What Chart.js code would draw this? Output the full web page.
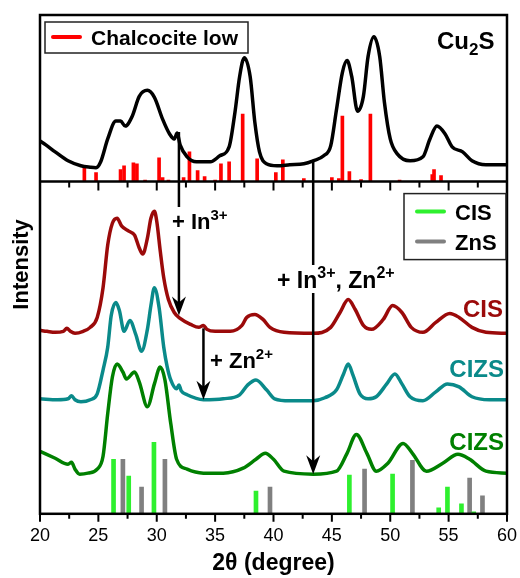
<!DOCTYPE html>
<html>
<head>
<meta charset="utf-8">
<script src="https://cdn.jsdelivr.net/npm/chart.js@4"></script>
<style>
  body { margin: 0; background: #fff; }
  #wrap { width: 520px; height: 578px; }
</style>
</head>
<body>
<div id="wrap"><canvas id="xrd"></canvas></div>
<script>
const FONT = '"Liberation Sans", Arial, Helvetica, sans-serif';

// x axis, 2theta in degrees
const angleMin = 20;
const angleMax = 60;
const angleStep = 5;

// Cu2S pattern, top panel: [2theta, intensity (a.u.)]
const cu2s = [
    [20.0, 41], [20.5, 37], [21.3, 30], [22.4, 21], [23.5, 16], [24.3, 14.5], [24.8, 14],
    [25.2, 20], [25.8, 43], [26.5, 61], [26.9, 61], [27.3, 56], [27.9, 66], [28.5, 86],
    [29.2, 92], [29.8, 85], [30.5, 63], [31.1, 48], [31.5, 43], [31.75, 49], [32.0, 37],
    [32.6, 25], [33.4, 20], [34.6, 20], [35.4, 26], [36.2, 35], [36.7, 70], [37.1, 106],
    [37.5, 125], [38.0, 106], [38.4, 60], [38.8, 30], [39.4, 18], [40.3, 16], [41.4, 17],
    [42.6, 18], [43.4, 21], [44.3, 26], [44.9, 36], [45.4, 73], [45.9, 110], [46.3, 122],
    [46.7, 106], [47.2, 71], [47.7, 86], [48.1, 126], [48.6, 146], [49.1, 126], [49.5, 80],
    [50.0, 43], [50.6, 28], [51.7, 21], [52.8, 25], [53.4, 43], [54.0, 56], [54.7, 48],
    [55.3, 35], [56.2, 30], [57.0, 21], [58.2, 17], [60.0, 17]
];

// Chalcocite low reference lines
const chalcocite = [
    [23.8, 16], [24.8, 9], [26.9, 12], [27.2, 16], [28.0, 19], [28.3, 18], [29.0, 1.5],
    [30.2, 24], [30.5, 4], [31.0, 1.5], [32.3, 4], [32.8, 30], [33.5, 11], [34.1, 5],
    [35.0, 1.5], [35.5, 18], [36.2, 20], [37.36, 68], [38.6, 23], [40.2, 9], [40.8, 22],
    [42.6, 3], [45.0, 4], [45.6, 3], [45.9, 66], [46.5, 10], [47.5, 2], [48.3, 68],
    [50.8, 1.5], [53.6, 7], [53.75, 12], [54.35, 6]
];

// bottom panel patterns (offset stacked)
const cis = [
    [20.0, 185], [20.6, 184], [21.3, 183], [22.0, 184], [22.3, 187], [22.6, 184], [23.0, 182],
    [23.7, 184], [24.3, 188], [24.9, 198], [25.4, 228], [25.8, 271], [26.2, 293], [26.6, 298],
    [27.0, 290], [27.6, 285], [28.1, 281], [28.5, 268], [28.8, 262], [29.2, 278], [29.5, 298],
    [29.8, 305], [30.0, 295], [30.3, 265], [30.6, 238], [31.0, 216], [31.5, 203], [32.0, 197],
    [32.9, 191], [33.6, 188], [34.0, 190], [34.3, 186], [35.0, 184], [36.3, 184], [37.3, 190],
    [37.7, 198], [38.4, 201], [39.1, 196], [39.7, 188], [40.9, 183], [43.4, 182], [44.9, 188],
    [45.7, 203], [46.4, 216], [47.0, 206], [47.7, 190], [48.4, 186], [49.4, 196], [50.2, 210],
    [51.0, 203], [51.8, 188], [52.8, 183], [53.9, 193], [55.1, 202], [55.9, 198], [57.0, 188],
    [58.2, 183], [60.0, 182]
];

const cizsTeal = [
    [20.0, 116], [21.5, 115], [22.4, 116], [22.7, 119], [23.0, 115], [23.5, 113], [24.3, 115],
    [24.9, 121], [25.4, 145], [25.8, 168], [26.1, 200], [26.5, 213], [26.8, 205], [27.2, 184],
    [27.7, 195], [28.2, 181], [28.7, 164], [29.2, 186], [29.5, 210], [29.8, 228], [30.2, 208],
    [30.6, 168], [30.9, 148], [31.2, 135], [31.7, 126], [31.9, 130], [32.1, 124], [32.6, 120],
    [34.0, 115], [35.7, 116], [37.1, 120], [37.8, 130], [38.5, 135], [39.4, 125], [40.1, 116],
    [41.4, 114], [43.4, 114], [44.4, 117], [45.4, 125], [46.0, 141], [46.4, 151], [46.8, 140],
    [47.4, 121], [48.1, 116], [48.8, 118], [49.7, 131], [50.4, 141], [51.0, 131], [51.7, 118],
    [52.8, 114], [53.9, 123], [54.9, 131], [55.9, 128], [57.0, 118], [58.5, 115], [60.0, 115]
];

const cizsGreen = [
    [20.0, 63], [21.3, 56], [22.4, 50], [22.7, 52], [23.0, 45], [23.4, 40], [24.1, 41],
    [24.9, 45], [25.4, 58], [25.8, 101], [26.2, 138], [26.6, 151], [27.1, 143], [27.4, 136],
    [28.1, 143], [28.5, 133], [29.2, 108], [29.8, 131], [30.3, 148], [30.7, 135], [31.2, 91],
    [31.7, 55], [32.6, 45], [34.0, 41], [35.7, 41], [37.4, 46], [38.5, 55], [39.3, 61],
    [40.0, 55], [40.9, 43], [43.4, 40], [45.4, 43], [46.3, 61], [47.1, 80], [48.0, 61],
    [48.8, 43], [49.8, 51], [51.1, 71], [51.9, 61], [53.1, 43], [54.5, 51], [55.8, 60],
    [56.8, 55], [58.2, 43], [60.0, 41]
];

// reference lines for CIS and ZnS
const cisRef = [
    [26.3, 55], [27.6, 38], [29.76, 72], [38.5, 23], [46.5, 39], [50.2, 40],
    [54.15, 6], [54.9, 27], [56.1, 10], [57.15, 2]
];
const znsRef = [
    [27.1, 55], [28.7, 27], [30.7, 55], [39.7, 27], [47.8, 45], [51.9, 54], [56.8, 36], [57.9, 18]
];

// arrows: angle, start [axis, value], end [axis, value]
const arrows = [
    { angle: 31.9, from: ['yTop', 50], to: ['yBot', 200], gap: [207, 236] },
    { angle: 34.0, from: ['yBot', 187], to: ['yBot', 115], gap: null },
    { angle: 43.4, from: ['yTop', 22], to: ['yBot', 40], gap: [265, 293] }
];

function toPoints(list) {
    return list.map(function(p) { return { x: p[0], y: p[1] }; });
}

function lineSet(list, color, axis) {
    return {
        type: 'line', data: toPoints(list), yAxisID: axis,
        borderColor: color, borderWidth: 3.5, pointRadius: 0,
        cubicInterpolationMode: 'monotone', fill: false
    };
}

function stickSet(list, color, axis, width) {
    return {
        type: 'bar', data: toPoints(list), yAxisID: axis,
        backgroundColor: color, borderWidth: 0, barThickness: width, grouped: false
    };
}

// draw text with super/subscripts, parts = [[text, 'sup'|'sub'|null], ...]
function drawRich(ctx, x, y, parts, size) {
    for (const [text, kind] of parts) {
        let s = kind ? Math.round(size * 0.7) : size;
        let dy = kind === 'sup' ? -size * 0.42 : (kind === 'sub' ? size * 0.24 : 0);
        ctx.font = 'bold ' + s + 'px ' + FONT;
        ctx.fillText(text, x, y + dy);
        x += ctx.measureText(text).width;
    }
}

const decorations = {
    id: 'decorations',
    afterDraw(chart) {
        const ctx = chart.ctx;
        const area = chart.chartArea;
        const xs = chart.scales.x;
        const split = chart.scales.yTop.bottom;
        ctx.save();

        // frame and panel divider
        ctx.strokeStyle = '#000';
        ctx.lineWidth = 2.5;
        ctx.strokeRect(area.left, area.top, area.right - area.left, area.bottom - area.top);
        ctx.beginPath();
        ctx.moveTo(area.left, split);
        ctx.lineTo(area.right, split);
        ctx.stroke();

        // major / minor ticks
        ctx.lineWidth = 2;
        ctx.beginPath();
        for (let v = angleMin; v <= angleMax; v += angleStep / 2) {
            const major = v % angleStep === 0;
            const p = xs.getPixelForValue(v);
            ctx.moveTo(p, area.bottom);
            ctx.lineTo(p, area.bottom + (major ? 8 : 5));
            ctx.moveTo(p, split);
            ctx.lineTo(p, split + (major ? 9 : 6));
        }
        ctx.stroke();

        // arrows
        ctx.fillStyle = '#000';
        ctx.lineWidth = 2.5;
        for (const a of arrows) {
            const x = xs.getPixelForValue(a.angle);
            const y0 = chart.scales[a.from[0]].getPixelForValue(a.from[1]);
            const y1 = chart.scales[a.to[0]].getPixelForValue(a.to[1]);
            ctx.beginPath();
            if (a.gap) {
                ctx.moveTo(x, y0); ctx.lineTo(x, a.gap[0]);
                ctx.moveTo(x, a.gap[1]); ctx.lineTo(x, y1 - 10);
            } else {
                ctx.moveTo(x, y0); ctx.lineTo(x, y1 - 10);
            }
            ctx.stroke();
            ctx.beginPath();
            ctx.moveTo(x, y1);
            ctx.lineTo(x - 7, y1 - 19);
            ctx.lineTo(x, y1 - 13);
            ctx.lineTo(x + 7, y1 - 19);
            ctx.closePath();
            ctx.fill();
        }

        // legend: Chalcocite low
        ctx.lineWidth = 1.5;
        ctx.strokeStyle = '#222';
        ctx.strokeRect(area.left + 5, area.top + 7, 203, 31);
        ctx.strokeStyle = '#ff0000';
        ctx.lineWidth = 4;
        ctx.lineCap = 'round';
        ctx.beginPath();
        ctx.moveTo(area.left + 13, area.top + 22);
        ctx.lineTo(area.left + 40, area.top + 22);
        ctx.stroke();
        ctx.textBaseline = 'alphabetic';
        ctx.fillStyle = '#000';
        ctx.font = 'bold 21px ' + FONT;
        ctx.fillText('Chalcocite low', area.left + 51, area.top + 30);

        // legend: CIS / ZnS
        ctx.lineWidth = 1.5;
        ctx.strokeStyle = '#222';
        ctx.strokeRect(404, split + 12, 102, 66);
        ctx.lineWidth = 4;
        ctx.strokeStyle = '#2ef02e';
        ctx.beginPath(); ctx.moveTo(417, split + 30); ctx.lineTo(444, split + 30); ctx.stroke();
        ctx.strokeStyle = '#808080';
        ctx.beginPath(); ctx.moveTo(417, split + 60); ctx.lineTo(444, split + 60); ctx.stroke();
        ctx.font = 'bold 22px ' + FONT;
        ctx.fillText('CIS', 455, split + 38);
        ctx.fillText('ZnS', 455, split + 68);

        // panel labels
        ctx.fillStyle = '#000';
        drawRich(ctx, 437, area.top + 34, [['Cu', null], ['2', 'sub'], ['S', null]], 24);
        ctx.textAlign = 'right';
        ctx.font = 'bold 24px ' + FONT;
        ctx.fillStyle = '#9b0a0a';
        ctx.fillText('CIS', 503, 317);
        ctx.fillStyle = '#0a8a8a';
        ctx.fillText('CIZS', 504, 377);
        ctx.fillStyle = '#008000';
        ctx.fillText('CIZS', 504, 450);
        ctx.textAlign = 'left';

        // arrow notes
        ctx.fillStyle = '#000';
        drawRich(ctx, 172, 229, [['+ In', null], ['3+', 'sup']], 22);
        drawRich(ctx, 210, 368, [['+ Zn', null], ['2+', 'sup']], 22);
        drawRich(ctx, 277, 288, [['+ In', null], ['3+', 'sup'], [', Zn', null], ['2+', 'sup']], 23);

        // y title
        ctx.translate(22, (area.top + area.bottom) / 2);
        ctx.rotate(-Math.PI / 2);
        ctx.textAlign = 'center';
        ctx.textBaseline = 'middle';
        ctx.font = 'bold 22px ' + FONT;
        ctx.fillText('Intensity', 0, 0);
        ctx.restore();
    }
};

function hiddenAxis(max, weight) {
    return {
        type: 'linear', position: 'left', stack: 'xrd', stackWeight: weight,
        min: 0, max: max,
        ticks: { display: false },
        grid: { display: false, drawTicks: false },
        border: { display: false }
    };
}

let config = {
    type: 'line',
    data: {
        datasets: [
            lineSet(cu2s, '#000000', 'yTop'),
            stickSet(chalcocite, '#ff0000', 'yTop', 3),
            lineSet(cis, '#9b0a0a', 'yBot'),
            lineSet(cizsTeal, '#0a8a8a', 'yBot'),
            lineSet(cizsGreen, '#008000', 'yBot'),
            stickSet(cisRef, '#2ef02e', 'yBot', 4),
            stickSet(znsRef, '#808080', 'yBot', 4)
        ]
    },
    options: {
        responsive: true,
        maintainAspectRatio: false,
        animation: false,
        layout: { padding: { left: 40, right: 10, top: 15, bottom: 1 } },
        plugins: { legend: { display: false }, tooltip: { enabled: false } },
        scales: {
            x: {
                type: 'linear', min: angleMin, max: angleMax, offset: false,
                ticks: { stepSize: angleStep, maxRotation: 0, padding: 3, color: '#000', font: { size: 18, family: FONT } },
                grid: { display: false, drawTicks: true, tickLength: 8 },
                border: { display: false },
                title: { display: true, text: '2θ (degree)', color: '#000', padding: 0, font: { size: 23, weight: 'bold', family: FONT } }
            },
            yBot: hiddenAxis(335, 335),
            yTop: hiddenAxis(168, 168)
        }
    },
    plugins: [decorations]
};

new Chart(document.getElementById('xrd'), config);
</script>
</body>
</html>
